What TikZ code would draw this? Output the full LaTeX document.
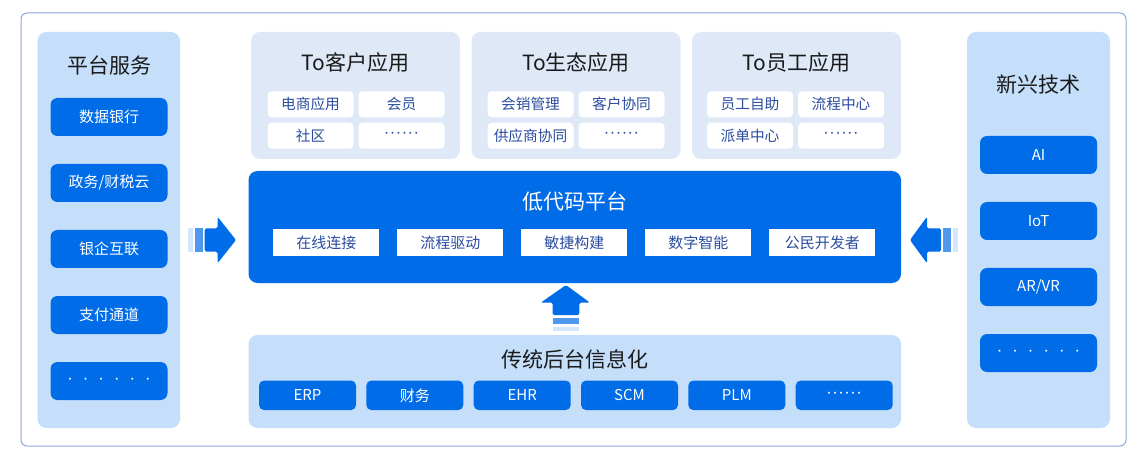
\documentclass[tikz,border=0pt]{standalone}
\usepackage{fontspec}
\setmainfont{Noto Sans CJK SC}
\newfontfamily\dotf{Noto Sans}
\usetikzlibrary{positioning}
\definecolor{mainblue}{HTML}{006CE8}
\definecolor{panelblue}{HTML}{C5DFFB}
\definecolor{toppanel}{HTML}{DEE8F6}
\definecolor{subtext}{HTML}{2B4DA0}
\definecolor{midstrip}{HTML}{4E99EE}
\definecolor{lightstrip}{HTML}{D3E6FB}
\definecolor{framecol}{HTML}{8EA6DB}
\definecolor{titlecol}{HTML}{1A1A1A}
\newcommand\dd[1]{{\dotf ·\kern#1·\kern#1·\kern#1·\kern#1·\kern#1·}}
\tikzset{
  panel/.style={fill=panelblue, rounded corners=9pt, inner sep=0pt, outer sep=0pt},
  toppan/.style={fill=toppanel, rounded corners=9pt, inner sep=0pt, outer sep=0pt, minimum width=209pt, minimum height=127pt},
  title/.style={text=titlecol, font=\fontsize{21}{25}\selectfont, inner sep=0pt},
  bluebox/.style={fill=mainblue, text=white, rounded corners=7pt, inner sep=0pt, font=\fontsize{15}{18}\selectfont},
  sidebox/.style={bluebox, minimum width=117pt, minimum height=38pt},
  botbox/.style={bluebox, rounded corners=5pt, minimum width=97pt, minimum height=29.5pt},
  subbox/.style={fill=white, text=subtext, rounded corners=4pt, inner sep=0pt, minimum width=86pt, minimum height=26pt, font=\fontsize{14.7}{17}\selectfont},
  innerbox/.style={fill=white, text=subtext, inner sep=0pt, minimum width=106pt, minimum height=27pt, font=\fontsize{15}{18}\selectfont},
}
\begin{document}
\begin{tikzpicture}[x=1pt,y=-1pt]
\useasboundingbox (0,0) rectangle (1145,462);
% outer frame
\draw[framecol, line width=1pt, rounded corners=6pt] (21,13) rectangle (1126,446);

% left panel
\node[panel, minimum width=142.5pt, minimum height=396pt] (lp) at (108.75,230) {};
\node[title] (lpt) at (109,65) {平台服务};
\node[sidebox] (l1) at (109,117) {数据银行};
\node[sidebox] (l2) at (109,183) {政务/财税云};
\node[sidebox] (l3) at (109,249) {银企互联};
\node[sidebox] (l4) at (109,315) {支付通道};
\node[sidebox] (l5) at (109,381) {\dd{11.5pt}};

% right panel
\node[panel, minimum width=143pt, minimum height=396pt] (rp) at (1038.5,230) {};
\node[title] (rpt) at (1038.5,84) {新兴技术};
\node[sidebox] (r1) at (1038.5,155) {AI};
\node[sidebox] (r2) at (1038.5,221) {IoT};
\node[sidebox] (r3) at (1038.5,287) {AR/VR};
\node[sidebox] (r4) at (1038.5,353) {\dd{11.5pt}};

% top panels
\node[toppan] (p1) at (355.5,95.5) {};
\node[title] (p1t) at (355.5,63) {To客户应用};
\node[subbox] (p1a) at (310.5,104.3) {电商应用};
\node[subbox] (p1b) at (401.5,104.3) {会员};
\node[subbox] (p1c) at (310.5,135.7) {社区};
\node[subbox] (p1d) at (401.5,135.7) {\dd{2pt}};

\node[toppan] (p2) at (576,95.5) {};
\node[title] (p2t) at (576,63) {To生态应用};
\node[subbox] (p2a) at (530.5,104.3) {会销管理};
\node[subbox] (p2b) at (621.5,104.3) {客户协同};
\node[subbox] (p2c) at (530.5,135.7) {供应商协同};
\node[subbox] (p2d) at (621.5,135.7) {\dd{2pt}};

\node[toppan] (p3) at (796.5,95.5) {};
\node[title] (p3t) at (796.5,63) {To员工应用};
\node[subbox] (p3a) at (750,104.3) {员工自助};
\node[subbox] (p3b) at (841,104.3) {流程中心};
\node[subbox] (p3c) at (750,135.7) {派单中心};
\node[subbox] (p3d) at (841,135.7) {\dd{2pt}};

% middle low-code platform
\node[fill=mainblue, rounded corners=9pt, inner sep=0pt, minimum width=652.5pt, minimum height=112pt] (mid) at (574.75,227) {};
\node[title, text=white] (midt) at (575,202) {低代码平台};
\node[innerbox] (m1) at (326.3,242.7) {在线连接};
\node[innerbox] (m2) at (450.3,242.7) {流程驱动};
\node[innerbox] (m3) at (574.3,242.7) {敏捷构建};
\node[innerbox] (m4) at (698.3,242.7) {数字智能};
\node[innerbox] (m5) at (822.3,242.7) {公民开发者};

% bottom panel
\node[panel, minimum width=652.5pt, minimum height=93pt] (bp) at (574.75,381.5) {};
\node[title] (bpt) at (575,359) {传统后台信息化};
\node[botbox] (b1) at (307.5,395.3) {ERP};
\node[botbox] (b2) at (414.8,395.3) {财务};
\node[botbox] (b3) at (522.2,395.3) {EHR};
\node[botbox] (b4) at (629.5,395.3) {SCM};
\node[botbox] (b5) at (736.8,395.3) {PLM};
\node[botbox] (b6) at (844.2,395.3) {\dd{2pt}};

% left arrow
\fill[lightstrip] (188,228.3) rectangle (192.7,251.7);
\fill[midstrip] (195,228.3) rectangle (202.7,251.7);
\fill[mainblue, rounded corners=1.5pt] (204.7,228.3) -- (217.5,228.3) -- (217.5,216.7) -- (236,240) -- (217.5,263.3) -- (217.5,251.7) -- (204.7,251.7) -- cycle;

% right arrow
\fill[lightstrip] (953.3,228.3) rectangle (957.5,251.7);
\fill[midstrip] (943.3,228.3) rectangle (950.7,251.7);
\fill[mainblue, rounded corners=1.5pt] (941,228.3) -- (927,228.3) -- (927,216.7) -- (910,240) -- (927,263.3) -- (927,251.7) -- (941,251.7) -- cycle;

% up arrow
\fill[lightstrip] (552.7,326.7) rectangle (579.3,330.7);
\fill[midstrip] (552.7,317.7) rectangle (579.3,324.3);
\fill[mainblue, rounded corners=1.5pt] (552.7,315) -- (552.7,302.7) -- (540.7,302.7) -- (566,285) -- (590,302.7) -- (579.3,302.7) -- (579.3,315) -- cycle;
\end{tikzpicture}
\end{document}
